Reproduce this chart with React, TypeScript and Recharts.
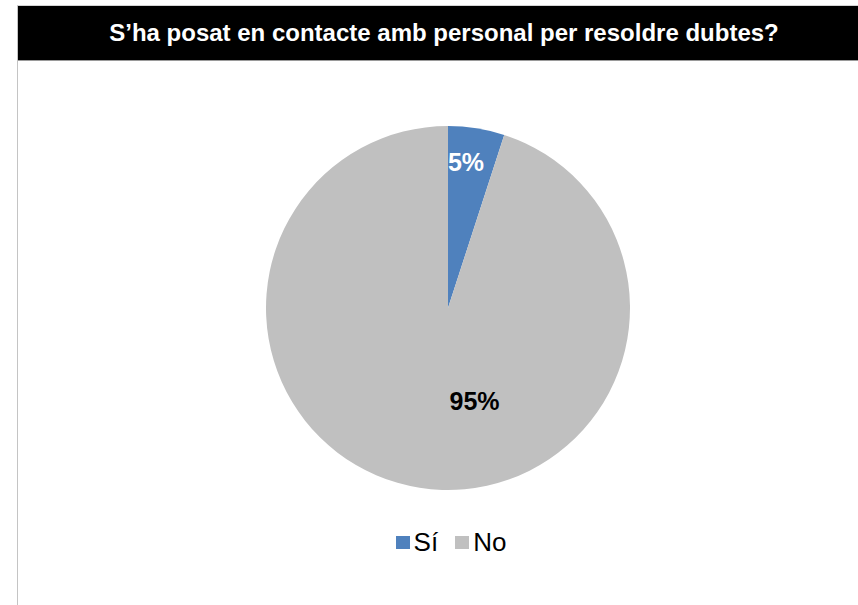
import { PieChart, Pie, Cell, Legend } from "recharts";

const categories = ["Sí", "No"];
const shares = [5, 95];
const colors = ["#4F81BD", "#C0C0C0"];
const labelColors = ["#FFFFFF", "#000000"];

const TITLE = "S’ha posat en contacte amb personal per resoldre dubtes?";
const FONT = "'Liberation Sans', Arial, sans-serif";

const data = categories.map((name, i) => ({ name, value: shares[i] }));

const RADIAN = Math.PI / 180;

// Excel's best-fit placement: small slice near the rim, big slice pulled towards the middle
function renderLabel(props: any) {
  const { cx, cy, midAngle, outerRadius, index, value } = props;
  const angle = index === 0 ? midAngle + 2 : midAngle + 25;
  const r = outerRadius * (index === 0 ? 0.81 : 0.53);
  const x = cx + r * Math.cos(-angle * RADIAN);
  const y = cy + r * Math.sin(-angle * RADIAN);
  return (
    <text
      x={x}
      y={y}
      fill={labelColors[index]}
      textAnchor="middle"
      dominantBaseline="central"
      fontFamily={FONT}
      fontWeight="bold"
      fontSize={25}
    >
      {`${value}%`}
    </text>
  );
}

function LegendContent() {
  return (
    <div
      style={{
        display: "flex",
        justifyContent: "center",
        alignItems: "center",
        fontFamily: FONT,
        fontSize: 26,
        lineHeight: "30px",
        color: "#000",
        paddingLeft: 6,
      }}
    >
      {categories.map((c, i) => (
        <div key={c} style={{ display: "flex", alignItems: "center", marginRight: i === 0 ? 17 : 0 }}>
          <span
            style={{
              display: "inline-block",
              width: 14,
              height: 13,
              background: colors[i],
              marginRight: 4,
            }}
          />
          <span>{c}</span>
        </div>
      ))}
    </div>
  );
}

export default function App() {
  return (
    <div style={{ position: "fixed", left: 0, top: 0, width: 858, height: 605, overflow: "hidden", background: "#fff" }}>
      <div
        style={{
          position: "absolute",
          left: 17,
          top: 5,
          width: 852,
          height: 620,
          borderTop: "1px solid #d4d4d4",
          borderLeft: "1px solid #c4c4c4",
        }}
      >
        <div
          style={{
            height: 54,
            background: "#000",
            color: "#fff",
            fontFamily: FONT,
            fontWeight: "bold",
            fontSize: 24,
            display: "flex",
            alignItems: "center",
            justifyContent: "center",
            borderBottom: "1px solid #9a9a9a",
          }}
        >
          {TITLE}
        </div>
        <PieChart width={851} height={544}>
          <Pie
            data={data}
            dataKey="value"
            nameKey="name"
            cx={425}
            cy={242}
            outerRadius={182}
            startAngle={90}
            endAngle={-270}
            stroke="none"
            label={renderLabel}
            labelLine={false}
            isAnimationActive={false}
          >
            {data.map((d, i) => (
              <Cell key={d.name} fill={colors[i]} />
            ))}
          </Pie>
          <Legend
            content={<LegendContent />}
            wrapperStyle={{ position: "absolute", top: 466, left: 0, width: 860 }}
          />
        </PieChart>
      </div>
    </div>
  );
}
